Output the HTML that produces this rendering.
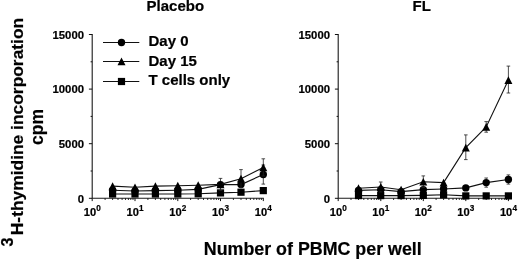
<!DOCTYPE html>
<html><head><meta charset="utf-8"><title>Figure</title>
<style>html,body{margin:0;padding:0;background:#fff}svg{display:block}text{font-family:"Liberation Sans",Arial,Helvetica,sans-serif;font-weight:bold;fill:#000;stroke:#000;stroke-width:0.2px}.tk{font-size:10.6px}.sp{font-size:8.2px}.lg{font-size:14.5px}.ax{font-size:17.5px}</style>
</head><body>
<svg width="520" height="261" viewBox="0 0 520 261">
<rect width="520" height="261" fill="#fff"/>
<path d="M92.2,34.0 V198.3 H263.8" fill="none" stroke="#1a1a1a" stroke-width="1.1"/>
<path d="M88.9,198.3 H92.2 M90.6,171.0 H92.2 M88.9,143.7 H92.2 M90.6,116.4 H92.2 M88.9,89.1 H92.2 M90.6,61.8 H92.2 M88.9,34.5 H92.2 M92.2,198.3 V201.1 M105.1,198.3 V199.9 M112.6,198.3 V199.9 M118.0,198.3 V199.9 M122.1,198.3 V199.9 M125.5,198.3 V199.9 M128.4,198.3 V199.9 M130.8,198.3 V199.9 M133.0,198.3 V199.9 M135.0,198.3 V201.1 M147.9,198.3 V199.9 M155.4,198.3 V199.9 M160.7,198.3 V199.9 M164.9,198.3 V199.9 M168.3,198.3 V199.9 M171.1,198.3 V199.9 M173.6,198.3 V199.9 M175.8,198.3 V199.9 M177.8,198.3 V201.1 M190.6,198.3 V199.9 M198.2,198.3 V199.9 M203.5,198.3 V199.9 M207.7,198.3 V199.9 M211.0,198.3 V199.9 M213.9,198.3 V199.9 M216.4,198.3 V199.9 M218.6,198.3 V199.9 M220.5,198.3 V201.1 M233.4,198.3 V199.9 M241.0,198.3 V199.9 M246.3,198.3 V199.9 M250.4,198.3 V199.9 M253.8,198.3 V199.9 M256.7,198.3 V199.9 M259.2,198.3 V199.9 M261.4,198.3 V199.9 M263.3,198.3 V201.1 " fill="none" stroke="#111" stroke-width="1"/>
<text transform="translate(84.0,203.3) scale(1.07,1)" text-anchor="end" class="tk">0</text>
<text transform="translate(84.0,147.7) scale(1.07,1)" text-anchor="end" class="tk">5000</text>
<text transform="translate(84.0,93.1) scale(1.07,1)" text-anchor="end" class="tk">10000</text>
<text transform="translate(84.0,38.5) scale(1.07,1)" text-anchor="end" class="tk">15000</text>
<text transform="translate(83.7,215.5) scale(1.05,1)" class="tk">10</text>
<text x="96.2" y="210.7" class="sp">0</text>
<text transform="translate(126.5,215.5) scale(1.05,1)" class="tk">10</text>
<text x="139.0" y="210.7" class="sp">1</text>
<text transform="translate(169.3,215.5) scale(1.05,1)" class="tk">10</text>
<text x="181.8" y="210.7" class="sp">2</text>
<text transform="translate(212.0,215.5) scale(1.05,1)" class="tk">10</text>
<text x="224.5" y="210.7" class="sp">3</text>
<text transform="translate(254.8,215.5) scale(1.05,1)" class="tk">10</text>
<text x="267.3" y="210.7" class="sp">4</text>
<polyline points="112.6,194.0 135.0,194.0 155.4,194.0 177.8,194.0 198.2,193.8 220.5,192.9 241.0,192.2 263.3,190.6" fill="none" stroke="#111" stroke-width="1.1"/>
<rect x="109.0" y="190.4" width="7.2" height="7.2"/>
<rect x="131.4" y="190.4" width="7.2" height="7.2"/>
<rect x="151.8" y="190.4" width="7.2" height="7.2"/>
<rect x="174.2" y="190.4" width="7.2" height="7.2"/>
<rect x="194.6" y="190.2" width="7.2" height="7.2"/>
<rect x="216.9" y="189.3" width="7.2" height="7.2"/>
<rect x="237.4" y="188.6" width="7.2" height="7.2"/>
<rect x="259.7" y="187.0" width="7.2" height="7.2"/>
<polyline points="112.6,190.3 135.0,191.0 155.4,190.6 177.8,190.2 198.2,189.4 220.5,184.6 241.0,184.6 263.3,174.5" fill="none" stroke="#111" stroke-width="1.1"/>
<path d="M220.5,178.4 V190.5 M218.7,178.4 h3.6 M218.7,190.5 h3.6 M263.3,165.0 V184.1 M261.5,165.0 h3.6 M261.5,184.1 h3.6 " fill="none" stroke="#222" stroke-width="0.8"/>
<circle cx="112.6" cy="190.3" r="3.7"/>
<circle cx="135.0" cy="191.0" r="3.7"/>
<circle cx="155.4" cy="190.6" r="3.7"/>
<circle cx="177.8" cy="190.2" r="3.7"/>
<circle cx="198.2" cy="189.4" r="3.7"/>
<circle cx="220.5" cy="184.6" r="3.7"/>
<circle cx="241.0" cy="184.6" r="3.7"/>
<circle cx="263.3" cy="174.5" r="3.7"/>
<polyline points="112.6,186.1 135.0,187.3 155.4,186.1 177.8,185.7 198.2,185.2 220.5,184.4 241.0,178.7 263.3,167.5" fill="none" stroke="#111" stroke-width="1.1"/>
<path d="M241.0,169.6 V187.5 M239.2,169.6 h3.6 M239.2,187.5 h3.6 M263.3,158.8 V176.0 M261.5,158.8 h3.6 M261.5,176.0 h3.6 " fill="none" stroke="#222" stroke-width="0.8"/>
<polygon points="112.6,182.2 108.6,189.9 116.6,189.9"/>
<polygon points="135.0,183.4 131.0,191.1 139.0,191.1"/>
<polygon points="155.4,182.2 151.4,189.9 159.4,189.9"/>
<polygon points="177.8,181.8 173.8,189.5 181.8,189.5"/>
<polygon points="198.2,181.3 194.2,189.0 202.2,189.0"/>
<polygon points="220.5,180.5 216.5,188.2 224.5,188.2"/>
<polygon points="241.0,174.8 237.0,182.5 245.0,182.5"/>
<polygon points="263.3,163.6 259.3,171.3 267.3,171.3"/>
<path d="M338.2,34.0 V198.3 H508.9" fill="none" stroke="#1a1a1a" stroke-width="1.1"/>
<path d="M334.9,198.3 H338.2 M336.6,171.0 H338.2 M334.9,143.7 H338.2 M336.6,116.4 H338.2 M334.9,89.1 H338.2 M336.6,61.8 H338.2 M334.9,34.5 H338.2 M338.2,198.3 V201.1 M351.0,198.3 V199.9 M358.5,198.3 V199.9 M363.8,198.3 V199.9 M367.9,198.3 V199.9 M371.3,198.3 V199.9 M374.2,198.3 V199.9 M376.6,198.3 V199.9 M378.8,198.3 V199.9 M380.8,198.3 V201.1 M393.6,198.3 V199.9 M401.1,198.3 V199.9 M406.4,198.3 V199.9 M410.5,198.3 V199.9 M413.9,198.3 V199.9 M416.7,198.3 V199.9 M419.2,198.3 V199.9 M421.4,198.3 V199.9 M423.3,198.3 V201.1 M436.1,198.3 V199.9 M443.6,198.3 V199.9 M448.9,198.3 V199.9 M453.0,198.3 V199.9 M456.4,198.3 V199.9 M459.3,198.3 V199.9 M461.7,198.3 V199.9 M463.9,198.3 V199.9 M465.8,198.3 V201.1 M478.7,198.3 V199.9 M486.2,198.3 V199.9 M491.5,198.3 V199.9 M495.6,198.3 V199.9 M499.0,198.3 V199.9 M501.8,198.3 V199.9 M504.3,198.3 V199.9 M506.5,198.3 V199.9 M508.4,198.3 V201.1 " fill="none" stroke="#111" stroke-width="1"/>
<text transform="translate(330.0,203.3) scale(1.07,1)" text-anchor="end" class="tk">0</text>
<text transform="translate(330.0,147.7) scale(1.07,1)" text-anchor="end" class="tk">5000</text>
<text transform="translate(330.0,93.1) scale(1.07,1)" text-anchor="end" class="tk">10000</text>
<text transform="translate(330.0,38.5) scale(1.07,1)" text-anchor="end" class="tk">15000</text>
<text transform="translate(329.7,215.5) scale(1.05,1)" class="tk">10</text>
<text x="342.2" y="210.7" class="sp">0</text>
<text transform="translate(372.2,215.5) scale(1.05,1)" class="tk">10</text>
<text x="384.8" y="210.7" class="sp">1</text>
<text transform="translate(414.8,215.5) scale(1.05,1)" class="tk">10</text>
<text x="427.3" y="210.7" class="sp">2</text>
<text transform="translate(457.3,215.5) scale(1.05,1)" class="tk">10</text>
<text x="469.8" y="210.7" class="sp">3</text>
<text transform="translate(499.9,215.5) scale(1.05,1)" class="tk">10</text>
<text x="512.4" y="210.7" class="sp">4</text>
<polyline points="358.5,195.6 380.8,195.6 401.1,195.6 423.3,195.4 443.6,194.8 465.8,195.9 486.2,195.9 508.4,195.9" fill="none" stroke="#111" stroke-width="1.1"/>
<rect x="354.9" y="192.0" width="7.2" height="7.2"/>
<rect x="377.1" y="192.0" width="7.2" height="7.2"/>
<rect x="397.5" y="192.0" width="7.2" height="7.2"/>
<rect x="419.7" y="191.8" width="7.2" height="7.2"/>
<rect x="440.0" y="191.2" width="7.2" height="7.2"/>
<rect x="462.2" y="192.3" width="7.2" height="7.2"/>
<rect x="482.6" y="192.3" width="7.2" height="7.2"/>
<rect x="504.8" y="192.3" width="7.2" height="7.2"/>
<polyline points="358.5,190.4 380.8,189.8 401.1,191.6 423.3,189.6 443.6,189.0 465.8,187.9 486.2,182.6 508.4,179.5" fill="none" stroke="#111" stroke-width="1.1"/>
<path d="M486.2,178.0 V187.2 M484.4,178.0 h3.6 M484.4,187.2 h3.6 M508.4,174.9 V184.1 M506.6,174.9 h3.6 M506.6,184.1 h3.6 " fill="none" stroke="#222" stroke-width="0.8"/>
<circle cx="358.5" cy="190.4" r="3.7"/>
<circle cx="380.8" cy="189.8" r="3.7"/>
<circle cx="401.1" cy="191.6" r="3.7"/>
<circle cx="423.3" cy="189.6" r="3.7"/>
<circle cx="443.6" cy="189.0" r="3.7"/>
<circle cx="465.8" cy="187.9" r="3.7"/>
<circle cx="486.2" cy="182.6" r="3.7"/>
<circle cx="508.4" cy="179.5" r="3.7"/>
<polyline points="358.5,188.2 380.8,187.0 401.1,189.7 423.3,181.8 443.6,182.6 465.8,147.6 486.2,127.0 508.4,80.1" fill="none" stroke="#111" stroke-width="1.1"/>
<path d="M380.8,182.0 V192.0 M378.9,182.0 h3.6 M378.9,192.0 h3.6 M423.3,175.9 V187.5 M421.5,175.9 h3.6 M421.5,187.5 h3.6 M465.8,134.9 V159.6 M464.0,134.9 h3.6 M464.0,159.6 h3.6 M486.2,121.6 V132.2 M484.4,121.6 h3.6 M484.4,132.2 h3.6 M508.4,66.1 V93.0 M506.6,66.1 h3.6 M506.6,93.0 h3.6 " fill="none" stroke="#222" stroke-width="0.8"/>
<polygon points="358.5,184.3 354.5,192.0 362.5,192.0"/>
<polygon points="380.8,183.1 376.8,190.8 384.8,190.8"/>
<polygon points="401.1,185.8 397.1,193.5 405.1,193.5"/>
<polygon points="423.3,177.9 419.3,185.6 427.3,185.6"/>
<polygon points="443.6,178.7 439.6,186.4 447.6,186.4"/>
<polygon points="465.8,143.7 461.8,151.4 469.8,151.4"/>
<polygon points="486.2,123.1 482.2,130.8 490.2,130.8"/>
<polygon points="508.4,76.2 504.4,83.9 512.4,83.9"/>
<text transform="translate(146.6,11.2) scale(1.035,1)" class="lg">Placebo</text>
<text transform="translate(412.6,11.1) scale(1.035,1)" class="lg">FL</text>
<path d="M103,42.5 H139.3" stroke="#111" stroke-width="1.05"/>
<circle cx="121.5" cy="42.5" r="3.7"/>
<text transform="translate(148.5,46.2) scale(1.035,1)" class="lg">Day 0</text>
<path d="M103,61.5 H139.3" stroke="#111" stroke-width="1.05"/>
<polygon points="121.5,57.6 117.5,65.3 125.5,65.3"/>
<text transform="translate(148.5,65.5) scale(1.035,1)" class="lg">Day 15</text>
<path d="M103,81.5 H139.3" stroke="#111" stroke-width="1.05"/>
<rect x="117.9" y="77.9" width="7.2" height="7.2"/>
<text transform="translate(148.5,85.2) scale(1.035,1)" class="lg">T cells only</text>
<text transform="translate(203.8,254.5) scale(1.02,1)" class="ax">Number of PBMC per well</text>
<text transform="translate(13.4,246.6) rotate(-90)" font-size="16">3</text>
<text transform="translate(23.0,235.2) rotate(-90)" font-size="17.4">H-thymidine incorporation</text>
<text transform="translate(42.8,127.0) rotate(-90)" class="ax" text-anchor="middle">cpm</text>
</svg></body></html>
